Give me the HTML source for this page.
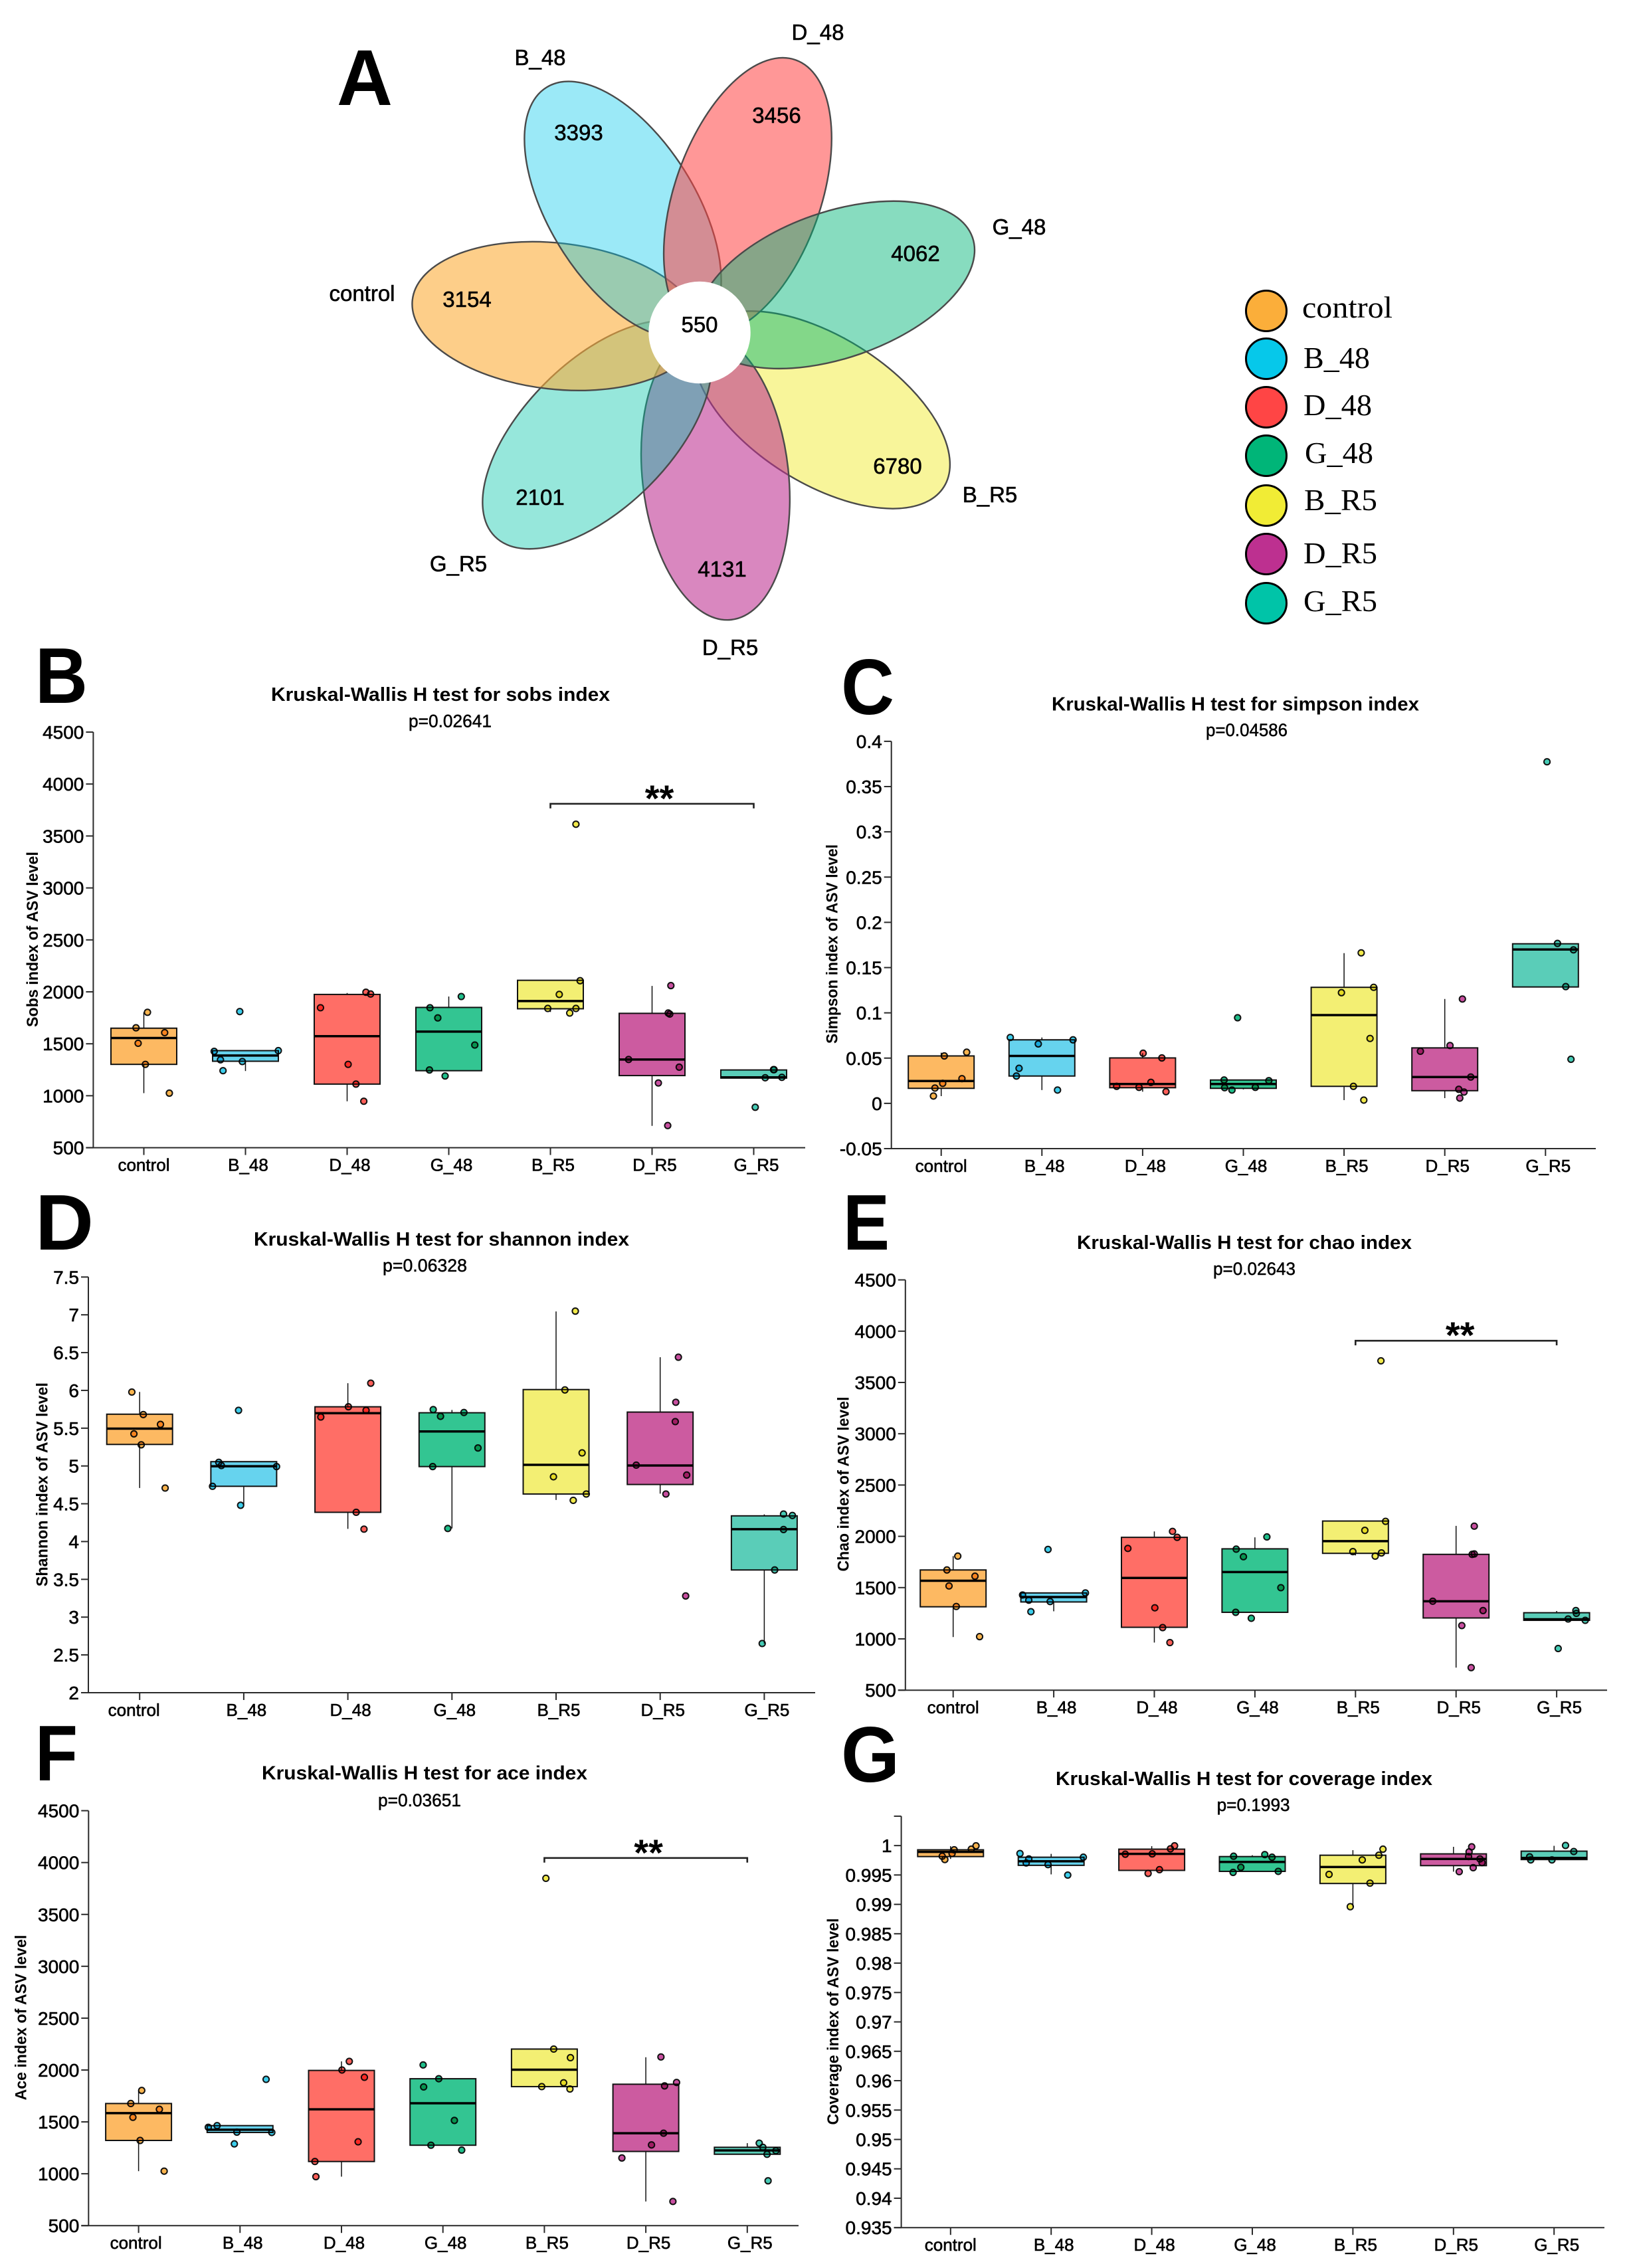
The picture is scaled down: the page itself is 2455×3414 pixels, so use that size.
<!DOCTYPE html>
<html lang="en">
<head>
<meta charset="utf-8">
<title>Alpha diversity figure</title>
<style>
html,body{margin:0;padding:0;background:#fff;}
svg{display:block;font-family:"Liberation Sans",sans-serif;}
</style>
</head>
<body>
<svg id="figure" xmlns="http://www.w3.org/2000/svg" width="2455" height="3414" viewBox="0 0 2455 3414">
<rect x="0" y="0" width="2455" height="3414" fill="#fff"/>

<g font-weight="bold" font-size="119" fill="#000">
<text x="507" y="158" textLength="84" lengthAdjust="spacingAndGlyphs">A</text>
<text x="53" y="1058" textLength="79" lengthAdjust="spacingAndGlyphs">B</text>
<text x="1266" y="1075" textLength="80" lengthAdjust="spacingAndGlyphs">C</text>
<text x="53" y="1881" textLength="88" lengthAdjust="spacingAndGlyphs">D</text>
<text x="1269" y="1881" textLength="70" lengthAdjust="spacingAndGlyphs">E</text>
<text x="53" y="2680" textLength="64" lengthAdjust="spacingAndGlyphs">F</text>
<text x="1266" y="2682" textLength="88" lengthAdjust="spacingAndGlyphs">G</text>
</g>

<g stroke="#4a4a4a" stroke-width="2.4">
<ellipse cx="1271" cy="500.5" rx="217" ry="110" transform="rotate(32.3 1053 500.5)" fill="#F1EC35" fill-opacity="0.5"/>
<ellipse cx="1271" cy="500.5" rx="217" ry="110" transform="rotate(83.7 1053 500.5)" fill="#BD3090" fill-opacity="0.58"/>
<ellipse cx="1271" cy="500.5" rx="217" ry="110" transform="rotate(135.1 1053 500.5)" fill="#00C4A8" fill-opacity="0.41"/>
<ellipse cx="1271" cy="500.5" rx="217" ry="110" transform="rotate(186.5 1053 500.5)" fill="#FBAE3A" fill-opacity="0.6"/>
<ellipse cx="1271" cy="500.5" rx="217" ry="110" transform="rotate(238 1053 500.5)" fill="#06C8EA" fill-opacity="0.4"/>
<ellipse cx="1271" cy="500.5" rx="217" ry="110" transform="rotate(289.4 1053 500.5)" fill="#FF4545" fill-opacity="0.56"/>
<ellipse cx="1271" cy="500.5" rx="217" ry="110" transform="rotate(340.8 1053 500.5)" fill="#00B578" fill-opacity="0.47"/>
<circle cx="1053" cy="500.5" r="76.7" fill="#fff" stroke="none"/>
</g>
<g font-size="33" text-anchor="middle" fill="#000" stroke="#000" stroke-width="0.6">
<text x="703" y="462">3154</text>
<text x="871" y="211">3393</text>
<text x="1169" y="185">3456</text>
<text x="1378" y="393">4062</text>
<text x="1351" y="713">6780</text>
<text x="1087" y="868">4131</text>
<text x="813" y="760">2101</text>
<text x="1053" y="500">550</text>
<text x="545" y="453">control</text>
<text x="813" y="98">B_48</text>
<text x="1231" y="60">D_48</text>
<text x="1534" y="353">G_48</text>
<text x="1490" y="756">B_R5</text>
<text x="1099" y="986">D_R5</text>
<text x="690" y="860">G_R5</text>
</g>

<g font-family="'Liberation Serif',serif" font-size="46" fill="#000">
<ellipse cx="1906" cy="468" rx="30.5" ry="30.5" fill="#FBAE3A" stroke="#000" stroke-width="3"/>
<ellipse cx="1906" cy="540" rx="30.5" ry="30.5" fill="#06C8EA" stroke="#000" stroke-width="3"/>
<ellipse cx="1906" cy="613" rx="30.5" ry="30.5" fill="#FF4545" stroke="#000" stroke-width="3"/>
<ellipse cx="1906" cy="686" rx="30.5" ry="30.5" fill="#00B578" stroke="#000" stroke-width="3"/>
<ellipse cx="1906" cy="761" rx="30.5" ry="30.5" fill="#F1EC35" stroke="#000" stroke-width="3"/>
<ellipse cx="1906" cy="834" rx="30.5" ry="30.5" fill="#BD3090" stroke="#000" stroke-width="3"/>
<ellipse cx="1906" cy="908" rx="30.5" ry="30.5" fill="#00C4A8" stroke="#000" stroke-width="3"/>
<text x="1960" y="478" textLength="136" lengthAdjust="spacingAndGlyphs">control</text>
<text x="1962" y="554" textLength="100" lengthAdjust="spacingAndGlyphs">B_48</text>
<text x="1962" y="625" textLength="103" lengthAdjust="spacingAndGlyphs">D_48</text>
<text x="1964" y="697" textLength="103" lengthAdjust="spacingAndGlyphs">G_48</text>
<text x="1963" y="768" textLength="110" lengthAdjust="spacingAndGlyphs">B_R5</text>
<text x="1962" y="848" textLength="111" lengthAdjust="spacingAndGlyphs">D_R5</text>
<text x="1962" y="920" textLength="111" lengthAdjust="spacingAndGlyphs">G_R5</text>
</g>
</svg>

<script>
const categories = ["control","B_48","D_48","G_48","B_R5","D_R5","G_R5"];

const countTicks = [500,1000,1500,2000,2500,3000,3500,4000,4500];
const simpsonTicks = [-0.05,0,0.05,0.1,0.15,0.2,0.25,0.3,0.35,0.4];
const shannonTicks = [2,2.5,3,3.5,4,4.5,5,5.5,6,6.5,7,7.5];
const coverageTicks = [0.935,0.94,0.945,0.95,0.955,0.96,0.965,0.97,0.975,0.98,0.985,0.99,0.995,1];

/* sobs */
const sobsQ1 = [1302,1332,1112,1241,1837,1194,1170];
const sobsMedian = [1556,1387,1573,1617,1911,1349,1177];
const sobsQ3 = [1650,1434,1975,1850,2111,1793,1248];
const sobsLow = [1025,1238,947,1241,1806,710,1170];
const sobsHigh = [1803,1434,1989,1955,2111,2057,1248];
const sobsPoints = [
 [1803,1654,1607,1505,1302,1025],
 [1810,1427,1434,1346,1329,1241],
 [1996,1979,1847,1302,1112,947],
 [1955,1847,1749,1488,1248,1190],
 [3613,2107,1975,1840,1840,1796],
 [2060,1796,1786,1349,1275,1123,713],
 [1251,1251,1173,1177,889]
];
const sobsJitter = [
 [.036,-.077,.205,-.056,.015,.251],
 [-.056,-.308,.323,-.246,-.031,-.221],
 [.185,.231,-.262,.01,.087,.164],
 [.123,-.185,-.108,.256,-.19,-.036],
 [.251,.292,.087,-.026,.251,.19],
 [.185,.159,.174,-.231,.267,.062,.154],
 [.195,.2,.113,.277,.015]
];

/* simpson */
const simpsonQ1 = [.0166,.0302,.0173,.0166,.0188,.014,.1286];
const simpsonMedian = [.0247,.0524,.0214,.0214,.0975,.0291,.17];
const simpsonQ3 = [.0524,.0702,.0502,.0258,.1282,.0613,.1763];
const simpsonLow = [.008,.0147,.0129,.0154,.0036,.0058,.1286];
const simpsonHigh = [.056,.0728,.0554,.0258,.166,.1153,.1763];
const simpsonPoints = [
 [.0565,.0524,.0273,.0221,.0169,.0081],
 [.0728,.0702,.0657,.0387,.0302,.0147],
 [.0554,.0502,.0232,.0188,.0177,.0129],
 [.0946,.0258,.0251,.0173,.0177,.0147],
 [.1663,.1282,.1223,.0717,.0188,.0036],
 [.1153,.0639,.0576,.0291,.0155,.0125,.0058],
 [.3774,.1767,.1696,.129,.0487]
];
const simpsonJitter = [
 [.253,.031,.206,.015,-.062,-.077],
 [-.314,.309,-.036,-.227,-.253,.155],
 [.005,.191,.082,-.258,-.036,.232],
 [-.057,-.191,.253,-.186,.119,-.113],
 [.17,.294,-.026,.258,.093,.196],
 [.175,.052,-.242,.258,.139,.191,.149],
 [.015,.119,.278,.201,.253]
];

/* shannon */
const shannonQ1 = [5.285,4.731,4.387,4.992,4.629,4.755,3.624];
const shannonMedian = [5.494,4.996,5.699,5.457,5.015,5.006,4.164];
const shannonQ3 = [5.685,5.057,5.783,5.704,6.011,5.713,4.34];
const shannonLow = [4.708,4.485,4.168,4.173,4.55,4.634,2.651];
const shannonHigh = [5.98,5.057,6.095,5.741,7.044,6.439,4.359];
const shannonPoints = [
 [5.978,5.68,5.55,5.425,5.28,4.708],
 [5.736,5.048,5.006,4.992,4.731,4.48],
 [6.095,5.783,5.736,5.648,4.387,4.164],
 [5.746,5.708,5.657,5.238,4.992,4.173],
 [7.049,6.006,5.173,4.857,4.629,4.545],
 [6.439,5.843,5.587,5.011,4.88,4.629,3.28],
 [4.364,4.345,4.159,3.624,2.651]
];
const shannonJitter = [
 [-.075,.035,.2,-.055,.015,.245],
 [-.05,-.24,-.215,.315,-.3,-.03],
 [.22,.005,.175,-.26,.08,.155],
 [-.18,.115,-.11,.25,-.185,-.04],
 [.185,.085,.25,-.025,.29,.165],
 [.175,.15,.145,-.23,.255,.055,.245],
 [.185,.27,.185,.1,-.02]
];

/* chao */
const chaoQ1 = [1313,1360,1113,1259,1834,1204,1181];
const chaoMedian = [1567,1408,1594,1652,1953,1367,1191];
const chaoQ3 = [1672,1448,1990,1878,2149,1824,1255];
const chaoLow = [1018,1269,964,1259,1814,720,1181];
const chaoHigh = [1807,1448,2048,1990,2149,2102,1272];
const chaoPoints = [
 [1807,1672,1611,1516,1316,1022],
 [1872,1428,1448,1377,1364,1265],
 [2048,1990,1882,1303,1110,964],
 [1994,1875,1801,1499,1259,1201],
 [3711,2146,2058,1851,1838,1807],
 [2099,1824,1828,1367,1276,1130,720],
 [1276,1249,1194,1181,906]
];
const chaoJitter = [
 [.046,-.062,.217,-.041,.031,.263],
 [-.057,-.31,.315,-.248,-.036,-.227],
 [.181,.227,-.263,.005,.083,.155],
 [.119,-.186,-.114,.258,-.191,-.036],
 [.253,.299,.093,-.026,.258,.196],
 [.181,.16,.181,-.232,.268,.057,.15],
 [.191,.196,.114,.284,.015]
];

/* ace */
const aceQ1 = [1321,1398,1118,1275,1840,1215,1188];
const aceMedian = [1584,1424,1621,1680,2003,1391,1225];
const aceQ3 = [1677,1464,1996,1916,2202,1863,1255];
const aceLow = [1025,1398,972,1275,1840,733,1188];
const aceHigh = [1803,1464,2083,1916,2202,2123,1295];
const acePoints = [
 [1803,1677,1621,1544,1321,1025],
 [1910,1464,1448,1401,1398,1288],
 [2083,2000,1930,1308,1118,972],
 [2049,1916,1837,1514,1275,1228],
 [3848,2202,2119,1877,1840,1817],
 [2126,1880,1847,1391,1278,1152,733],
 [1295,1255,1222,1188,932]
];
const aceJitter = [
 [.031,-.077,.205,-.056,.015,.252],
 [.257,-.226,-.313,-.031,.313,-.056],
 [.077,.005,.226,.164,-.262,-.252],
 [-.195,-.041,-.19,.113,-.118,.185],
 [.015,.092,.257,.19,-.026,.252],
 [.149,.303,.185,.175,.056,-.236,.267],
 [.118,.154,.282,.195,.205]
];

/* coverage */
const coverageQ1 = [.99813,.99664,.99578,.99561,.99355,.99659,.99762];
const coverageMedian = [.99893,.99733,.99859,.99722,.99636,.99773,.9979];
const coverageQ3 = [.99928,.99802,.99939,.99813,.99836,.99859,.99905];
const coverageLow = [.99773,.9951,.99578,.99561,.9896,.99556,.99762];
const coverageHigh = [.9999,.99859,.9999,.99836,.99922,.99979,.99996];
const coveragePoints = [
 [.99996,.99939,.99928,.99865,.99819,.99762],
 [.99865,.99802,.99773,.99704,.99676,.99498],
 [.99996,.99945,.99853,.99859,.9959,.99527],
 [.99847,.99819,.99802,.9963,.99561,.99544],
 [.99939,.99836,.99756,.9951,.99361,.9896],
 [.99979,.99893,.99813,.99773,.9971,.99624,.99556],
 [1.00002,.99899,.99808,.99756,.99756]
];
const coverageJitter = [
 [.253,.206,.036,.015,-.083,-.057],
 [-.31,.32,-.222,-.248,-.031,.165],
 [.227,.186,-.263,.005,.077,-.036],
 [.124,-.186,.196,-.114,.258,-.191],
 [.299,.258,.093,-.237,.17,-.026],
 [.181,.155,.15,.263,.284,.196,.057],
 [.114,.196,-.243,-.232,-.021]
];

const boxColors = ["#FDB962","#66D3EE","#FF6E66","#33C592","#F3EF73","#CC5BA0","#5ACDB8"];
const dotColors = ["#F9B44E","#3CCDEB","#FF5E58","#1FBE8A","#F1E94A","#C84FA0","#45CBB5"];

const NS = "http://www.w3.org/2000/svg";
const figure = document.getElementById("figure");

function add(parent, tag, name, attrs, text) {
  const el = document.createElementNS(NS, tag);
  
  
  for (const k in attrs) el.setAttribute(k, attrs[k]);
  if (text !== undefined) el.textContent = text;
  parent.appendChild(el);
  return el;
}

function drawPanel(p) {
  const g = add(figure, "g", "panel-" + p.id, {});
  const yScale = v => p.bottom - (v - p.min) / (p.max - p.min) * (p.bottom - p.top);
  const xScale = i => p.x0 + i * p.step;
  const half = 49.5;
  const axisColor = "#2a2a2a";

  add(g, "text", p.id + "-title", {x: p.titleX, y: p.titleY + 10, "font-weight": "bold", "font-size": 29, textLength: p.titleW, lengthAdjust: "spacingAndGlyphs"}, p.title);
  add(g, "text", p.id + "-p-value", {x: p.pX, y: p.pY + 9, "font-size": 27, stroke: "#000", "stroke-width": 0.5, textLength: p.pW, lengthAdjust: "spacingAndGlyphs"}, p.pText);
  add(g, "text", p.id + "-y-axis-title", {
    x: 0, y: 0, "font-weight": "bold", "font-size": 24, "text-anchor": "middle",
    textLength: p.yTitleLen, lengthAdjust: "spacingAndGlyphs",
    transform: "translate(" + (p.yTitleX + 8.5) + " " + p.yTitleCY + ") rotate(-90)"
  }, p.yTitle);

  /* axes */
  add(g, "line", p.id + "-y-axis", {x1: p.axisX, x2: p.axisX, y1: p.axisTop === undefined ? p.top : yScale(p.axisTop), y2: p.bottom, stroke: axisColor, "stroke-width": 2});
  add(g, "line", p.id + "-x-axis", {x1: p.axisX - 11, x2: p.right, y1: p.bottom, y2: p.bottom, stroke: axisColor, "stroke-width": 2});
  p.ticks.forEach(t => {
    add(g, "line", p.id + "-y-tick", {x1: p.axisX - 11, x2: p.axisX, y1: yScale(t), y2: yScale(t), stroke: axisColor, "stroke-width": 2});
    add(g, "text", p.id + "-y-tick-label", {x: p.axisX - 14, y: yScale(t) + 10, "font-size": 28, "text-anchor": "end", stroke: "#000", "stroke-width": 0.6}, String(t));
  });
  if (p.axisTop !== undefined) {
    add(g, "line", p.id + "-y-tick", {x1: p.axisX - 11, x2: p.axisX, y1: yScale(p.axisTop), y2: yScale(p.axisTop), stroke: axisColor, "stroke-width": 2});
  }
  categories.forEach((c, i) => {
    add(g, "line", p.id + "-x-tick", {x1: xScale(i), x2: xScale(i), y1: p.bottom, y2: p.bottom + 11, stroke: axisColor, "stroke-width": 2});
    add(g, "text", p.id + "-x-tick-label", {x: xScale(i) + (i === 0 ? (p.firstLabelDx || 0) : 4), y: p.bottom + 35, "font-size": 26, "text-anchor": "middle", stroke: "#000", "stroke-width": 0.6}, c);
  });

  /* boxes */
  categories.forEach((c, i) => {
    const x = xScale(i);
    const box = add(g, "g", p.id + "-box-" + c, {style: "isolation:auto"});
    add(box, "line", "whisker-" + c, {x1: x, x2: x, y1: yScale(p.high[i]), y2: yScale(p.low[i]), stroke: "#111", "stroke-width": 1.5});
    add(box, "rect", "iqr-box-" + c, {x: x - half, width: half * 2, y: yScale(p.q3[i]), height: yScale(p.q1[i]) - yScale(p.q3[i]), fill: boxColors[i], stroke: "#111", "stroke-width": 2});
    add(box, "line", "median-" + c, {x1: x - half, x2: x + half, y1: yScale(p.median[i]), y2: yScale(p.median[i]), stroke: "#000", "stroke-width": 3.5});
    p.points[i].forEach((v, j) => {
      add(box, "circle", "point-" + c, {cx: x + p.jitter[i][j] * p.step, cy: yScale(v), r: 4.6, fill: dotColors[i], stroke: "#111", "stroke-width": 2, style: "mix-blend-mode:multiply"});
    });
  });

  /* significance bracket */
  if (p.bracket) {
    const bx1 = xScale(p.bracket[0]), bx2 = xScale(p.bracket[1]), by = yScale(p.bracket[2]);
    add(g, "path", p.id + "-significance-bracket", {d: "M" + bx1 + " " + (by + 7) + "V" + by + "H" + bx2 + "V" + (by + 7), fill: "none", stroke: "#222", "stroke-width": 2.6});
    add(g, "text", p.id + "-significance-stars", {x: (bx1 + bx2) / 2 + p.starDx, y: by + 11, "font-size": 56, "font-weight": "bold", "text-anchor": "middle"}, "**");
  }
}

drawPanel({id: "b", title: "Kruskal-Wallis H test for sobs index", pText: "p=0.02641", yTitle: "Sobs index of ASV level",
  titleX: 408, titleY: 1045, titleW: 510, pX: 615, pY: 1085.5, pW: 125, yTitleX: 48.6, yTitleCY: 1414, yTitleLen: 264,
  axisX: 140.4, top: 1102, bottom: 1727.6, right: 1212, x0: 216.5, step: 153, min: 500, max: 4500, ticks: countTicks,
  q1: sobsQ1, median: sobsMedian, q3: sobsQ3, low: sobsLow, high: sobsHigh, points: sobsPoints, jitter: sobsJitter, bracket: [4, 6, 3810], starDx: 11});

drawPanel({id: "c", title: "Kruskal-Wallis H test for simpson index", pText: "p=0.04586", yTitle: "Simpson index of ASV level",
  titleX: 1583, titleY: 1059.4, titleW: 553, pX: 1815, pY: 1099, pW: 123, yTitleX: 1252, yTitleCY: 1421, yTitleLen: 300,
  axisX: 1341.7, top: 1115.9, bottom: 1729, right: 2402, x0: 1416.7, step: 151.6, min: -0.05, max: 0.4, ticks: simpsonTicks,
  q1: simpsonQ1, median: simpsonMedian, q3: simpsonQ3, low: simpsonLow, high: simpsonHigh, points: simpsonPoints, jitter: simpsonJitter});

drawPanel({id: "d", title: "Kruskal-Wallis H test for shannon index", pText: "p=0.06328", yTitle: "Shannon index of ASV level",
  titleX: 382, titleY: 1865, titleW: 565, pX: 576, pY: 1905, pW: 127, yTitleX: 63, yTitleCY: 2234.6, yTitleLen: 307, firstLabelDx: -8.5,
  axisX: 133, top: 1922.3, bottom: 2548, right: 1227, x0: 210.2, step: 156.7, min: 2, max: 7.5, ticks: shannonTicks,
  q1: shannonQ1, median: shannonMedian, q3: shannonQ3, low: shannonLow, high: shannonHigh, points: shannonPoints, jitter: shannonJitter});

drawPanel({id: "e", title: "Kruskal-Wallis H test for chao index", pText: "p=0.02643", yTitle: "Chao index of ASV level",
  titleX: 1621, titleY: 1870, titleW: 504, pX: 1826, pY: 1910, pW: 124, yTitleX: 1269, yTitleCY: 2234, yTitleLen: 263,
  axisX: 1362.8, top: 1926.6, bottom: 2544.2, right: 2419, x0: 1434.7, step: 151.4, min: 500, max: 4500, ticks: countTicks,
  q1: chaoQ1, median: chaoMedian, q3: chaoQ3, low: chaoLow, high: chaoHigh, points: chaoPoints, jitter: chaoJitter, bracket: [4, 6, 3907], starDx: 6});

drawPanel({id: "f", title: "Kruskal-Wallis H test for ace index", pText: "p=0.03651", yTitle: "Ace index of ASV level",
  titleX: 394, titleY: 2668.5, titleW: 490, pX: 569, pY: 2710, pW: 125, yTitleX: 31, yTitleCY: 3037, yTitleLen: 249, firstLabelDx: -4,
  axisX: 133.3, top: 2725.6, bottom: 3350.2, right: 1202, x0: 208.6, step: 152.7, min: 500, max: 4500, ticks: countTicks,
  q1: aceQ1, median: aceMedian, q3: aceQ3, low: aceLow, high: aceHigh, points: acePoints, jitter: aceJitter, bracket: [4, 6, 4044], starDx: 4});

drawPanel({id: "g", title: "Kruskal-Wallis H test for coverage index", pText: "p=0.1993", yTitle: "Coverage index of ASV level",
  titleX: 1589, titleY: 2677, titleW: 567, pX: 1831.6, pY: 2717, pW: 110, yTitleX: 1253.4, yTitleCY: 3043, yTitleLen: 311,
  axisX: 1356.6, top: 2733.9, bottom: 3353.2, right: 2415, x0: 1430.8, step: 151.4, min: 0.935, max: 1.005, axisTop: 1.005, ticks: coverageTicks,
  q1: coverageQ1, median: coverageMedian, q3: coverageQ3, low: coverageLow, high: coverageHigh, points: coveragePoints, jitter: coverageJitter});
</script>
</body>
</html>
